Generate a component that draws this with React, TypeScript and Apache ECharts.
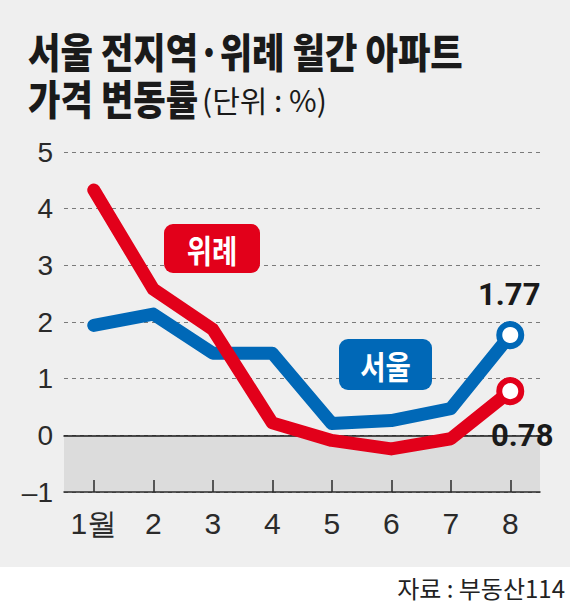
import React, { useEffect, useRef } from "react";
import * as echarts from "echarts";

const months = ["1월", "2", "3", "4", "5", "6", "7", "8"];
const seoul = [1.94, 2.14, 1.45, 1.45, 0.21, 0.26, 0.47, 1.77];
const wirye = [4.33, 2.58, 1.87, 0.22, -0.09, -0.24, -0.06, 0.78];
const seriesNames = ["서울", "위례"];
const yMin = -1;
const yMax = 5;
const yStep = 1;
const titleLine1 = "서울 전지역·위례 월간 아파트";
const titleLine2 = "가격 변동률";
const unitText = "(단위 : %)";
const sourceText = "자료 : 부동산114";

const BLUE = "#0068b7";
const RED = "#e2001a";
const NARROW = '"Liberation Sans Narrow", "Arial Narrow", "Liberation Sans", Roboto, sans-serif';
const KR = '"Noto Sans CJK KR", "Noto Sans", sans-serif';
const NUM = 'Roboto, "Liberation Sans", sans-serif';

export default function App() {
  const ref = useRef<HTMLDivElement>(null);
  useEffect(() => {
    if (!ref.current) return;
    const chart = echarts.init(ref.current, null, { renderer: "svg" });
    const last = months.length - 1;
    const splitColors = ["#dcdcdc", "rgba(0,0,0,0)", "rgba(0,0,0,0)", "rgba(0,0,0,0)", "rgba(0,0,0,0)", "rgba(0,0,0,0)"];
    chart.setOption({
      animation: false,
      backgroundColor: "transparent",
      grid: { left: 64, right: 30, top: 152, bottom: 114 },
      xAxis: [
        {
          type: "category",
          data: months,
          boundaryGap: true,
          axisLine: { onZero: false, lineStyle: { color: "#2a2a2a", width: 1.5 } },
          axisTick: { show: true, inside: true, length: 12, interval: 0, alignWithLabel: true, lineStyle: { color: "#2a2a2a", width: 1.5 } },
          axisLabel: { color: "#2a2a2a", fontSize: 30, margin: 16, interval: 0, fontFamily: NARROW },
          splitLine: { show: false },
        },
        {
          type: "category",
          data: months,
          position: "top",
          boundaryGap: true,
          axisLine: { show: true, onZero: true, onZeroAxisIndex: 0, lineStyle: { color: "#1a1a1a", width: 1.5 } },
          axisTick: { show: false },
          axisLabel: { show: false },
          splitLine: { show: false },
        },
      ],
      yAxis: {
        type: "value",
        min: yMin,
        max: yMax,
        interval: yStep,
        z: -1,
        axisLine: { show: false },
        axisTick: { show: false },
        axisLabel: {
          color: "#2a2a2a",
          fontSize: 28,
          margin: 11,
          fontFamily: NARROW,
          formatter: (v: number) => (v < 0 ? "–" + Math.abs(v) : String(v)),
        },
        splitLine: { lineStyle: { color: "#7a7a7a", type: [4, 4], width: 1 } },
        splitArea: { show: true, areaStyle: { color: splitColors } },
      },
      series: [
        {
          name: seriesNames[0],
          type: "line",
          data: seoul,
          symbol: "none",
          z: 2,
          lineStyle: { color: BLUE, width: 13, cap: "round", join: "round" },
          itemStyle: { color: BLUE },
        },
        {
          name: seriesNames[1],
          type: "line",
          data: wirye,
          symbol: "none",
          z: 3,
          lineStyle: { color: RED, width: 13, cap: "round", join: "round" },
          itemStyle: { color: RED },
        },
        {
          type: "scatter",
          z: 4,
          data: [[months[last], seoul[last]]],
          symbol: "circle",
          symbolSize: 22,
          itemStyle: { color: "#fff", borderColor: BLUE, borderWidth: 6, opacity: 1 },
          label: {
            show: true,
            position: "inside",
            offset: [-1, -41],
            formatter: (p: any) => Number(p.value[1]).toFixed(2),
            color: "#1a1a1a",
            fontSize: 31,
            fontWeight: "bold",
            fontFamily: NUM,
          },
        },
        {
          type: "scatter",
          z: 5,
          data: [[months[last], wirye[last]]],
          symbol: "circle",
          symbolSize: 22,
          itemStyle: { color: "#fff", borderColor: RED, borderWidth: 6, opacity: 1 },
          label: {
            show: true,
            position: "inside",
            offset: [12, 44],
            formatter: (p: any) => Number(p.value[1]).toFixed(2),
            color: "#1a1a1a",
            fontSize: 31,
            fontWeight: "bold",
            fontFamily: NUM,
          },
        },
      ],
      graphic: [
        {
          type: "text",
          x: 28,
          y: 50,
          scaleX: 0.86,
          style: { text: titleLine1, fill: "#1a1a1a", font: `900 41px ${KR}`, textAlign: "left", textVerticalAlign: "middle" },
        },
        {
          type: "text",
          x: 28,
          y: 97,
          scaleX: 0.86,
          style: { text: titleLine2, fill: "#1a1a1a", font: `900 41px ${KR}`, textAlign: "left", textVerticalAlign: "middle" },
        },
        {
          type: "text",
          x: 202,
          y: 99,
          style: { text: unitText, fill: "#1a1a1a", font: `30px ${KR}`, textAlign: "left", textVerticalAlign: "middle" },
        },
        {
          type: "rect",
          shape: { x: 164, y: 224, width: 96, height: 49, r: 9 },
          style: { fill: RED },
          z: 10,
        },
        {
          type: "text",
          x: 212,
          y: 249,
          scaleX: 0.86,
          z: 11,
          style: { text: seriesNames[1], fill: "#fff", font: `bold 32px ${KR}`, textAlign: "center", textVerticalAlign: "middle" },
        },
        {
          type: "rect",
          shape: { x: 339, y: 339, width: 93, height: 51, r: 9 },
          style: { fill: BLUE },
          z: 10,
        },
        {
          type: "text",
          x: 385.5,
          y: 365,
          scaleX: 0.86,
          z: 11,
          style: { text: seriesNames[0], fill: "#fff", font: `bold 32px ${KR}`, textAlign: "center", textVerticalAlign: "middle" },
        },
        {
          type: "text",
          x: 565,
          y: 587,
          style: { text: sourceText, fill: "#222", font: `24px ${KR}`, textAlign: "right", textVerticalAlign: "middle" },
        },
      ],
    });
    return () => chart.dispose();
  }, []);
  return (
    <div
      style={{
        position: "absolute",
        left: 0,
        top: 0,
        width: 570,
        height: 606,
        background: "linear-gradient(#efefef 0px, #efefef 567px, #ffffff 567px, #ffffff 606px)",
      }}
    >
      <div ref={ref} style={{ width: 570, height: 606 }} />
    </div>
  );
}
